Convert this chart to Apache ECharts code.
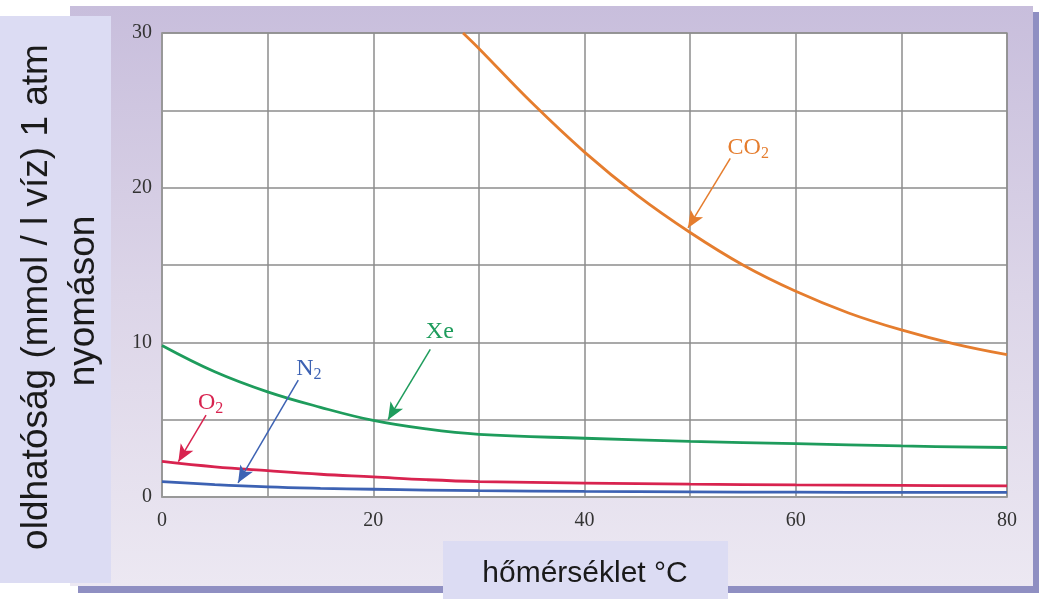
<!DOCTYPE html>
<html><head><meta charset="utf-8">
<script src="https://cdn.jsdelivr.net/npm/echarts@6/dist/echarts.min.js"></script>
<style>html,body{margin:0;padding:0;background:#fff}#c{width:1039px;height:599px}</style>
</head><body><div id="c"></div>
<script>
// temperatures (°C) and solubilities (mmol / l water at 1 atm)
const co2Temp = [28.5, 30, 35, 40, 45, 50, 55, 60, 65, 70, 75, 80];
const co2Vals = [30, 29.0, 25.5, 22.3, 19.5, 17.1, 15.0, 13.3, 11.9, 10.8, 9.9, 9.2];
const temps   = [0, 5, 10, 15, 20, 25, 30, 40, 50, 60, 70, 80];
const xeVals  = [9.8, 8.1, 6.8, 5.8, 4.95, 4.4, 4.05, 3.8, 3.6, 3.45, 3.3, 3.2];
const o2Vals  = [2.3, 1.95, 1.7, 1.47, 1.3, 1.12, 1.0, 0.9, 0.83, 0.78, 0.75, 0.72];
const n2Vals  = [1.0, 0.8, 0.65, 0.56, 0.5, 0.45, 0.41, 0.36, 0.33, 0.31, 0.3, 0.3];
const xTicks = [0, 20, 40, 60, 80];
const yTicks = [0, 10, 20, 30];
// annotation labels: [x, y] in data units, arrows: [from, to]
const labelCO2 = [55.5, 22.6], arrowCO2 = [[53.8, 21.9], [49.8, 17.4]];
const labelXe  = [26.3, 10.7], arrowXe  = [[25.4, 9.55], [21.4, 5.0]];
const labelN2  = [13.9, 8.3],  arrowN2  = [[12.9, 7.56], [7.2, 0.92]];
const labelO2  = [4.6, 6.1],   arrowO2  = [[4.17, 5.3], [1.55, 2.28]];

const pair = (xs, ys) => xs.map((x, i) => [x, ys[i]]);
const rich = c => ({
  a: {fontFamily: 'Liberation Serif', fontSize: 24, color: c},
  s: {fontFamily: 'Liberation Serif', fontSize: 16, color: c, padding: [12, 0, 0, 0]}
});
function mk(name, color, data, lbl, arr, text) {
  return {
    type: 'line', name, data, smooth: 0.4, showSymbol: false, symbol: 'none',
    lineStyle: {color, width: 2.8}, clip: true, silent: true, z: 3,
    markLine: {silent: true, symbol: ['none', 'arrow'], symbolSize: [11, 17],
      lineStyle: {color, width: 1.5, type: 'solid'}, label: {show: false},
      data: [[{coord: arr[0]}, {coord: arr[1]}]]},
    markPoint: {silent: true, data: [{coord: lbl, symbol: 'circle', symbolSize: 0,
      label: {show: true, position: 'inside', formatter: text, rich: rich(color)}}]}
  };
}
const chart = echarts.init(document.getElementById('c'), null, {renderer: 'canvas'});
chart.setOption({
  animation: false,
  backgroundColor: '#ffffff',
  graphic: [
    {type: 'rect', z: -10, shape: {x: 78, y: 12, width: 961, height: 581}, style: {fill: '#8f8fc2'}},
    {type: 'rect', z: -9, shape: {x: 70, y: 6, width: 963, height: 580},
      style: {fill: new echarts.graphic.LinearGradient(0, 0, 0, 1, [
        {offset: 0, color: '#c8bedc'}, {offset: 0.5, color: '#dcd5e8'}, {offset: 1, color: '#ece8f2'}])}},
    {type: 'rect', z: -8, shape: {x: 0, y: 16, width: 111, height: 567}, style: {fill: '#dcdcf3'}},
    {type: 'rect', z: -8, shape: {x: 443, y: 541, width: 285, height: 58}, style: {fill: '#dcdcf3'}},
    {type: 'text', z: 10, x: 585, y: 574, style: {text: 'hőmérséklet °C', font: '30px "Liberation Sans"',
      fill: '#1a1a1a', align: 'center', verticalAlign: 'middle'}},
    {type: 'text', z: 10, x: 37, y: 297, rotation: Math.PI / 2, style: {text: 'oldhatóság (mmol / l víz) 1 atm',
      font: '37px "Liberation Sans"', fill: '#1a1a1a', align: 'center', verticalAlign: 'middle'}},
    {type: 'text', z: 10, x: 84, y: 301, rotation: Math.PI / 2, style: {text: 'nyomáson',
      font: '37px "Liberation Sans"', fill: '#1a1a1a', align: 'center', verticalAlign: 'middle'}}
  ],
  grid: {left: 162, right: 32, top: 33, bottom: 102, show: true, backgroundColor: '#ffffff',
    borderColor: '#9a9a9a', borderWidth: 1.5},
  xAxis: {type: 'value', min: 0, max: 80, interval: 10,
    axisLine: {show: true, lineStyle: {color: '#9a9a9a', width: 1.5}}, axisTick: {show: false},
    splitLine: {show: true, lineStyle: {color: '#8c8c8c', width: 1.5}},
    axisLabel: {margin: 14, fontFamily: 'Liberation Serif', fontSize: 20, color: '#333',
      formatter: v => xTicks.includes(v) ? String(v) : ''}},
  yAxis: {type: 'value', min: 0, max: 30, interval: 5,
    axisLine: {show: true, lineStyle: {color: '#9a9a9a', width: 1.5}}, axisTick: {show: false},
    splitLine: {show: true, lineStyle: {color: '#8c8c8c', width: 1.5}},
    axisLabel: {margin: 10, fontFamily: 'Liberation Serif', fontSize: 20, color: '#333',
      formatter: v => yTicks.includes(v) ? String(v) : ''}},
  series: [
    mk('CO2', '#e57d2e', pair(co2Temp, co2Vals), labelCO2, arrowCO2, '{a|CO}{s|2}'),
    mk('Xe', '#1e9c5c', pair(temps, xeVals), labelXe, arrowXe, '{a|Xe}'),
    mk('N2', '#3d62b3', pair(temps, n2Vals), labelN2, arrowN2, '{a|N}{s|2}'),
    mk('O2', '#d8234f', pair(temps, o2Vals), labelO2, arrowO2, '{a|O}{s|2}')
  ]
});
</script></body></html>
